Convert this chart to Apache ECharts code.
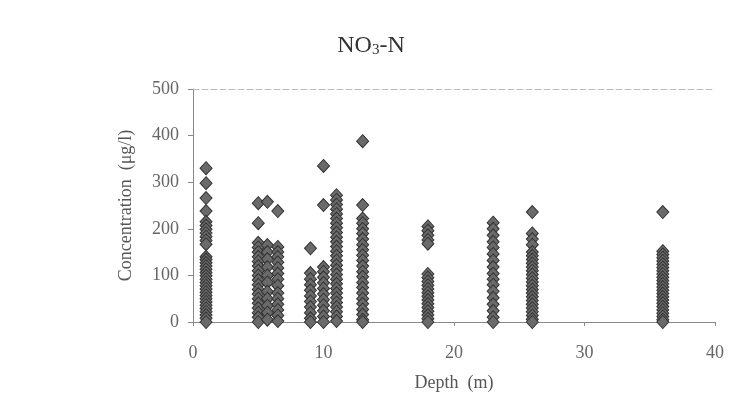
<!DOCTYPE html>
<html>
<head>
<meta charset="utf-8">
<script src="https://cdn.jsdelivr.net/npm/echarts@6/dist/echarts.min.js"></script>
<style>
  html, body { margin: 0; padding: 0; background: #fff; }
  #main { width: 742px; height: 407px; }
</style>
</head>
<body>
<div id="main"></div>
<script>
// depth (m) of each sampling column
var depths = [1, 5, 5.7, 6.5, 9, 10, 11, 13, 18, 23, 26, 36];

// NO3-N concentrations (ug/l)
var d1 = [330, 298, 266, 238, 215, 207, 199, 191, 183, 175, 167, 140, 134, 127, 120, 113, 106, 99, 92, 85, 78, 71, 64, 57, 50, 43, 36, 29, 22, 15, 8, 0];
var d5 = [255, 212, 170, 160, 150, 140, 130, 120, 110, 100, 90, 80, 70, 60, 50, 40, 30, 20, 10, 0];
var d57 = [258, 165, 150, 135, 118, 100, 85, 65, 50, 35, 20, 5];
var d65 = [238, 161, 150, 140, 128, 116, 104, 92, 78, 62, 50, 38, 26, 14, 2];
var d9 = [158, 105, 92, 80, 68, 56, 44, 32, 20, 8, 0];
var d10 = [335, 251, 118, 108, 96, 84, 72, 60, 48, 36, 24, 12, 0];
var d11 = [272, 262, 252, 242, 232, 222, 212, 202, 192, 182, 172, 162, 152, 142, 132, 122, 112, 102, 92, 82, 72, 62, 52, 42, 32, 22, 12, 2];
var d13 = [388, 251, 222, 212, 200, 190, 178, 166, 155, 143, 132, 120, 108, 97, 85, 74, 62, 50, 39, 27, 16, 5, 0];
var d18 = [205, 196, 186, 176, 168, 103, 95, 87, 79, 71, 63, 55, 47, 39, 31, 23, 15, 7, 0];
var d23 = [213, 200, 186, 172, 160, 146, 132, 118, 104, 92, 80, 66, 52, 38, 24, 10, 0];
var d26 = [236, 190, 178, 166, 150, 142, 134, 126, 118, 110, 102, 94, 86, 78, 70, 62, 54, 46, 38, 30, 22, 14, 6, 0];
var d36 = [236, 152, 145, 138, 131, 124, 117, 110, 103, 96, 89, 82, 75, 68, 61, 54, 47, 40, 33, 26, 19, 12, 5, 0];

var columns = [d1, d5, d57, d65, d9, d10, d11, d13, d18, d23, d26, d36];

var xTicks = [0, 10, 20, 30, 40];
var yTicks = [0, 100, 200, 300, 400, 500];

var points = [];
columns.forEach(function (vals, i) {
    vals.forEach(function (v) {
        points.push([depths[i], v]);
    });
});

var serif = '"Liberation Serif", "DejaVu Serif", serif';

var myChart = echarts.init(document.getElementById('main'));

var option = {
    backgroundColor: '#fff',
    animation: false,
    title: {
        text: '{a|NO}{s|3}{a|-N}',
        left: 'center',
        top: 27,
        textStyle: {
            fontWeight: 'normal',
            rich: {
                a: { fontFamily: serif, fontSize: 24, fontWeight: 'normal', color: '#333', lineHeight: 26, verticalAlign: 'bottom' },
                s: { fontFamily: serif, fontSize: 15, fontWeight: 'normal', color: '#333', lineHeight: 3, verticalAlign: 'bottom' }
            }
        }
    },
    grid: { left: 193, right: 27, top: 89, bottom: 85 },
    xAxis: [{
        type: 'value',
        min: xTicks[0],
        max: xTicks[xTicks.length - 1],
        interval: 10,
        name: 'Depth  (m)',
        nameLocation: 'middle',
        nameGap: 52,
        nameTextStyle: { fontFamily: serif, fontSize: 18, color: '#555' },
        axisLine: { show: true, lineStyle: { color: '#888', width: 1 } },
        axisTick: { show: true, inside: false, length: 4, lineStyle: { color: '#888' } },
        axisLabel: { fontFamily: serif, fontSize: 18, color: '#666', margin: 22 },
        splitLine: { show: false }
    }, {
        type: 'value',
        position: 'top',
        min: 0,
        max: 40,
        interval: 10,
        axisLine: { show: true, lineStyle: { color: '#bbb', width: 1, type: [6, 3] } },
        axisTick: { show: false },
        axisLabel: { show: false },
        splitLine: { show: false }
    }],
    yAxis: {
        type: 'value',
        min: yTicks[0],
        max: yTicks[yTicks.length - 1],
        interval: 100,
        name: 'Concentration  (μg/l)',
        nameLocation: 'middle',
        nameGap: 58,
        nameTextStyle: { fontFamily: serif, fontSize: 18, color: '#555' },
        axisLine: { show: true, lineStyle: { color: '#888', width: 1 } },
        axisTick: { show: true, inside: false, length: 5, lineStyle: { color: '#888' } },
        axisLabel: { fontFamily: serif, fontSize: 18, color: '#666', margin: 14 },
        splitLine: { show: false }
    },
    series: [{
        type: 'scatter',
        symbol: 'diamond',
        symbolSize: [12, 13],
        data: points,
        itemStyle: { color: '#6a6a6a', borderColor: '#333', borderWidth: 1, opacity: 1 }
    }]
};

myChart.setOption(option);
</script>
</body>
</html>
